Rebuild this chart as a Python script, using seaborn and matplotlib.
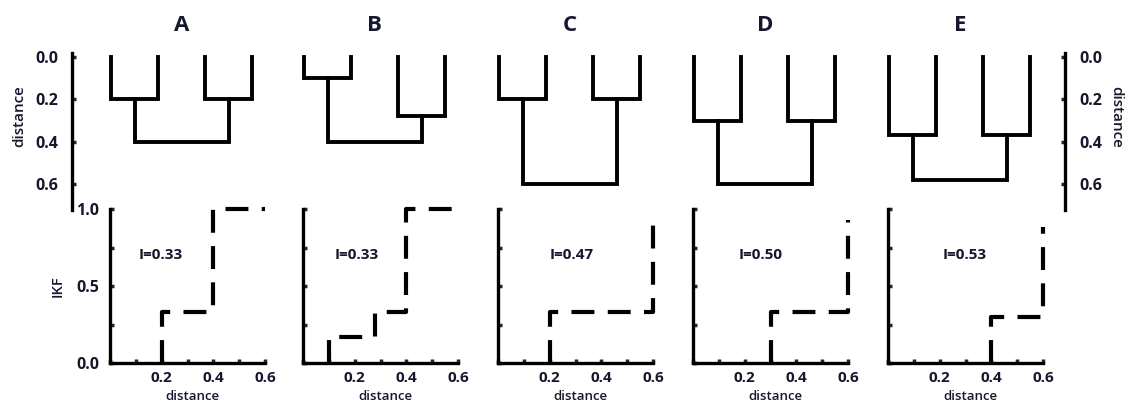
import matplotlib
matplotlib.use("Agg")
import matplotlib.pyplot as plt
import matplotlib.transforms as mtransforms
import seaborn as sns

# ---------------- data ----------------
panel_labels = ["A", "B", "C", "D", "E"]
index_labels = ["I=0.33", "I=0.33", "I=0.47", "I=0.50", "I=0.53"]

# dendrogram merge heights (distance): left pair, right pair, root
merge_left = [0.20, 0.10, 0.20, 0.30, 0.37]
merge_right = [0.20, 0.28, 0.20, 0.30, 0.37]
merge_root = [0.40, 0.40, 0.60, 0.60, 0.58]

# IKF step functions (distance, IKF)
ikf_dist_A = [0.2, 0.2, 0.4, 0.6]
ikf_val_A = [0.0, 0.33, 1.0, 1.0]
ikf_dist_B = [0.1, 0.1, 0.28, 0.4, 0.6]
ikf_val_B = [0.0, 0.17, 0.33, 1.0, 1.0]
ikf_dist_C = [0.2, 0.2, 0.6]
ikf_val_C = [0.0, 0.33, 0.93]
ikf_dist_D = [0.3, 0.3, 0.6]
ikf_val_D = [0.0, 0.33, 0.93]
ikf_dist_E = [0.4, 0.4, 0.6]
ikf_val_E = [0.0, 0.30, 0.88]

dist_ticks = [0.0, 0.2, 0.4, 0.6]
dist_ticklabels = ["0.0", "0.2", "0.4", "0.6"]
x_ticks = [0.0, 0.1, 0.2, 0.3, 0.4, 0.5, 0.6]
x_ticklabels = ["", "", "0.2", "", "0.4", "", "0.6"]
ikf_ticks = [0.0, 0.25, 0.5, 0.75, 1.0]
ikf_ticklabels = ["0.0", "", "0.5", "", "1.0"]

ikf_dists = [ikf_dist_A, ikf_dist_B, ikf_dist_C, ikf_dist_D, ikf_dist_E]
ikf_vals = [ikf_val_A, ikf_val_B, ikf_val_C, ikf_val_D, ikf_val_E]

# ---------------- layout / style ----------------
sns.set_style("white")
plt.rcParams["font.family"] = ["Open Sans", "DejaVu Sans"]

W, H = 1134, 403
TXT = "#15172c"
LINE_W = 2.8
SPINE_W = 2.4
panel_left = [110, 303, 498, 693, 888]
panel_w = 155
index_pos_x = [0.196, 0.21, 0.285, 0.26, 0.296]

fig = plt.figure(figsize=(W / 100, H / 100), dpi=100)


def frac(x0, y_top, w, h):
    return [x0 / W, 1 - (y_top + h) / H, w / W, h / H]


dend_top, dend_h = 53, 157
dend_ylim = (0.722, -0.019)

# shared distance scale (left and right spines)
axs = fig.add_axes(frac(72, dend_top, 1065 - 72, dend_h))
axs.patch.set_visible(False)
axs.set_ylim(*dend_ylim)
axs.set_xticks([])
for s in ["top", "bottom"]:
    axs.spines[s].set_visible(False)
for s in ["left", "right"]:
    axs.spines[s].set_linewidth(SPINE_W)
    axs.spines[s].set_color("black")
axs.set_yticks(dist_ticks)
axs.set_yticklabels(dist_ticklabels, fontweight="bold", color=TXT, fontsize=11.5)
axs.tick_params(axis="y", direction="in", length=3, width=2.5, left=True,
                right=True, labelleft=True, labelright=True, pad=10)
axs.set_ylabel("distance", fontsize=11, fontweight="semibold", color=TXT)
axs.yaxis.set_label_coords(-0.046, 0.6)
axs.text(1.0514, 0.59, "distance", rotation=-90, transform=axs.transAxes,
         ha="center", va="center", fontsize=11, fontweight="semibold", color=TXT)

for i in range(5):
    # ---- dendrogram ----
    ax = fig.add_axes(frac(panel_left[i], dend_top, panel_w, dend_h))
    ax.set_ylim(*dend_ylim)
    ax.set_xlim(-0.03, 3.27)
    ax.axis("off")
    hl, hr, hroot = merge_left[i], merge_right[i], merge_root[i]
    paths = [
        ([0, 0, 1, 1], [0, hl, hl, 0]),
        ([2, 2, 3, 3], [0, hr, hr, 0]),
        ([0.5, 0.5, 2.5, 2.5], [hl, hroot, hroot, hr]),
    ]
    for px, py in paths:
        sns.lineplot(x=px, y=py, ax=ax, sort=False, estimator=None,
                     color="black", linewidth=LINE_W, solid_joinstyle="miter",
                     solid_capstyle="projecting", clip_on=False)
    tr = mtransforms.blended_transform_factory(ax.transData, ax.transAxes)
    ax.text(1.5, 1.178, panel_labels[i], transform=tr, ha="center", va="center",
            fontsize=16, fontweight="bold", color=TXT)

    # ---- IKF step plot ----
    bx = fig.add_axes(frac(panel_left[i], 209, panel_w, 154))
    bx.patch.set_visible(False)
    sns.lineplot(x=ikf_dists[i], y=ikf_vals[i], ax=bx, sort=False,
                 estimator=None, drawstyle="steps-post", color="black",
                 linewidth=LINE_W + 0.2, linestyle=(0, (5.5, 3.2)),
                 clip_on=False)
    bx.set_xlim(0, 0.6)
    bx.set_ylim(0, 1.0)
    for s in ["top", "right"]:
        bx.spines[s].set_visible(False)
    for s in ["left", "bottom"]:
        bx.spines[s].set_linewidth(SPINE_W)
        bx.spines[s].set_color("black")
    bx.set_xticks(x_ticks)
    bx.set_xticklabels(x_ticklabels, fontweight="bold", color=TXT, fontsize=11)
    bx.set_yticks(ikf_ticks)
    if i == 0:
        bx.set_yticklabels(ikf_ticklabels, fontweight="bold", color=TXT,
                           fontsize=11.5)
        bx.set_ylabel("IKF", fontsize=10.5, fontweight="semibold", color=TXT)
        bx.yaxis.set_label_coords(-0.29, 0.5)
    else:
        bx.set_yticklabels([])
        bx.set_ylabel("")
    bx.tick_params(axis="both", direction="in", length=3, width=2.5,
                   left=True, bottom=True)
    bx.tick_params(axis="x", pad=6)
    bx.tick_params(axis="y", pad=8)
    bx.set_xlabel("distance", fontsize=9.5, fontweight="semibold", color=TXT,
                  va="bottom")
    bx.xaxis.set_label_coords(0.535, -0.259)
    bx.text(index_pos_x[i], 0.70, index_labels[i], ha="center", va="center",
            fontsize=11, fontweight="bold", color=TXT)

fig.savefig("out.png", dpi=100)
